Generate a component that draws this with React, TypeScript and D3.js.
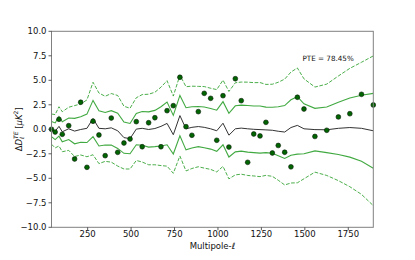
import React from "react";
import * as d3 from "d3";

const ells = [42, 63, 85, 104, 141, 175, 210, 246, 281, 315, 351, 386, 423, 459, 494, 530, 564, 601, 637, 672, 707, 743, 781, 816, 850, 887, 921, 958, 993, 1029, 1063, 1100, 1134, 1171, 1206, 1242, 1276, 1313, 1347, 1384, 1420, 1457, 1495, 1558, 1626, 1693, 1759, 1826, 1894];

const dataPoints = [0.0, -0.28, 1.02, -0.51, 0.37, -3.03, 2.76, -3.88, 0.82, -0.58, -2.69, 1.15, -2.35, -1.4, -0.99, 0.78, -1.78, 0.67, 1.18, -1.78, 1.9, 2.41, 5.31, 0.27, -0.61, 1.8, 3.67, 3.16, -1.12, 3.43, -1.81, 5.16, 2.92, -3.37, -0.48, -0.68, 0.71, -2.42, -1.65, -2.34, -3.83, 3.27, 2.07, -0.73, -0.1, 1.26, 1.59, 3.57, 2.48];

const meanLine = [0.02, -0.2, 0.3, -0.25, 0.05, -0.18, -0.02, 0.1, 1.1, 0.1, 0.05, 0.15, -0.15, -0.85, -0.95, 0.02, 0.1, -0.02, 0.08, 0.3, 0.6, -0.55, 1.4, 0.05, 0.2, 0.28, 0.2, 0.05, -0.15, 0.62, -0.6, 0.05, 0.12, 0.05, 0.0, -0.03, -0.06, -0.1, -0.2, -0.28, 0.18, 0.4, 0.05, -0.03, -0.05, 0.1, 0.18, 0.1, -0.15];

const sigma = [0.77, 0.85, 1.0, 1.02, 1.1, 1.3, 1.3, 1.45, 1.85, 1.8, 1.66, 1.75, 1.8, 1.6, 1.55, 1.6, 1.72, 1.8, 1.85, 2.0, 2.18, 1.97, 2.06, 2.15, 2.1, 2.05, 2.08, 2.07, 2.1, 2.2, 2.23, 2.35, 2.35, 2.38, 2.38, 2.4, 2.32, 2.35, 2.5, 2.7, 2.83, 2.93, 2.55, 2.17, 2.33, 2.67, 3.02, 3.37, 3.82];

const xTicks = [250, 500, 750, 1000, 1250, 1500, 1750];
const yTicks = [-10, -7.5, -5, -2.5, 0, 2.5, 5, 7.5, 10];
const pteLabel = "PTE = 78.45%";

const W = 415;
const H = 260;
const L = 51.5;
const R = 373.3;
const T = 31.3;
const B = 227.3;
const FONT = "DejaVu Sans, sans-serif";
const GREEN = "#2ca02c";

export default function App() {
  const x = d3.scaleLinear().domain([d3.min(ells)!, d3.max(ells)!]).range([L, R]);
  const y = d3.scaleLinear().domain([-10, 10]).range([B, T]);

  const band = (k: number) =>
    d3
      .line<number>()
      .x((_, i) => x(ells[i]))
      .y((m, i) => y(m + k * sigma[i]))(meanLine) || "";

  const fmt = (v: number) => d3.format(".1f")(v).replace("-", "\u2212");

  return (
    <svg width={W} height={H} style={{ position: "absolute", left: 0, top: 0, background: "#fff" }} fontFamily={FONT}>
      <rect width={W} height={H} fill="#fff" />
      <defs>
        <clipPath id="plotclip">
          <rect x={L} y={T} width={R - L} height={B - T} />
        </clipPath>
      </defs>
      <g clipPath="url(#plotclip)">
        <path d={band(2)} fill="none" stroke={GREEN} strokeOpacity={0.85} strokeWidth={1} strokeDasharray="3.7,1.6" />
        <path d={band(-2)} fill="none" stroke={GREEN} strokeOpacity={0.85} strokeWidth={1} strokeDasharray="3.7,1.6" />
        <path d={band(1)} fill="none" stroke={GREEN} strokeOpacity={0.9} strokeWidth={1.1} />
        <path d={band(-1)} fill="none" stroke={GREEN} strokeOpacity={0.9} strokeWidth={1.1} />
        <path d={band(0)} fill="none" stroke="#333" strokeWidth={1} />
      </g>
      {dataPoints.map((v, i) => (
        <circle key={i} cx={x(ells[i])} cy={y(v)} r={2.4} fill="#006400" stroke="#0a1a0a" strokeWidth={0.6} />
      ))}
      <rect x={L} y={T} width={R - L} height={B - T} fill="none" stroke="#808080" strokeWidth={1} />
      {yTicks.map((t) => (
        <g key={t}>
          <line x1={L - 3} x2={L} y1={y(t)} y2={y(t)} stroke="#333" strokeWidth={0.8} />
          <text x={L - 5} y={y(t)} dy="0.35em" textAnchor="end" fontSize={8.5} fill="#111">
            {fmt(t)}
          </text>
        </g>
      ))}
      {xTicks.map((t) => (
        <g key={t}>
          <line x1={x(t)} x2={x(t)} y1={B} y2={B + 3} stroke="#333" strokeWidth={0.8} />
          <text x={x(t)} y={B + 9.5} textAnchor="middle" fontSize={8.5} fill="#111">
            {t}
          </text>
        </g>
      ))}
      <text x={(L + R) / 2} y={248.5} textAnchor="middle" fontSize={8.5} fill="#111">
        Multipole-<tspan fontStyle="italic">ℓ</tspan>
      </text>
      <text transform={`translate(21.5, ${(T + B) / 2}) rotate(-90)`} textAnchor="middle" fontSize={8.5} fill="#111">
        <tspan>Δ</tspan>
        <tspan fontStyle="italic">D</tspan>
        <tspan fontSize={6} fontStyle="italic" dy={2.5}>ℓ</tspan>
        <tspan fontSize={6} fontStyle="italic" dx={-2.4} dy={-6}>TE</tspan>
        <tspan dy={3.5}>{" ["}</tspan>
        <tspan fontStyle="italic">μK</tspan>
        <tspan fontSize={6} dy={-3.5}>2</tspan>
        <tspan dy={3.5}>]</tspan>
      </text>
      <text x={302.5} y={61} fontSize={7.2} fill="#111">
        {pteLabel}
      </text>
    </svg>
  );
}
